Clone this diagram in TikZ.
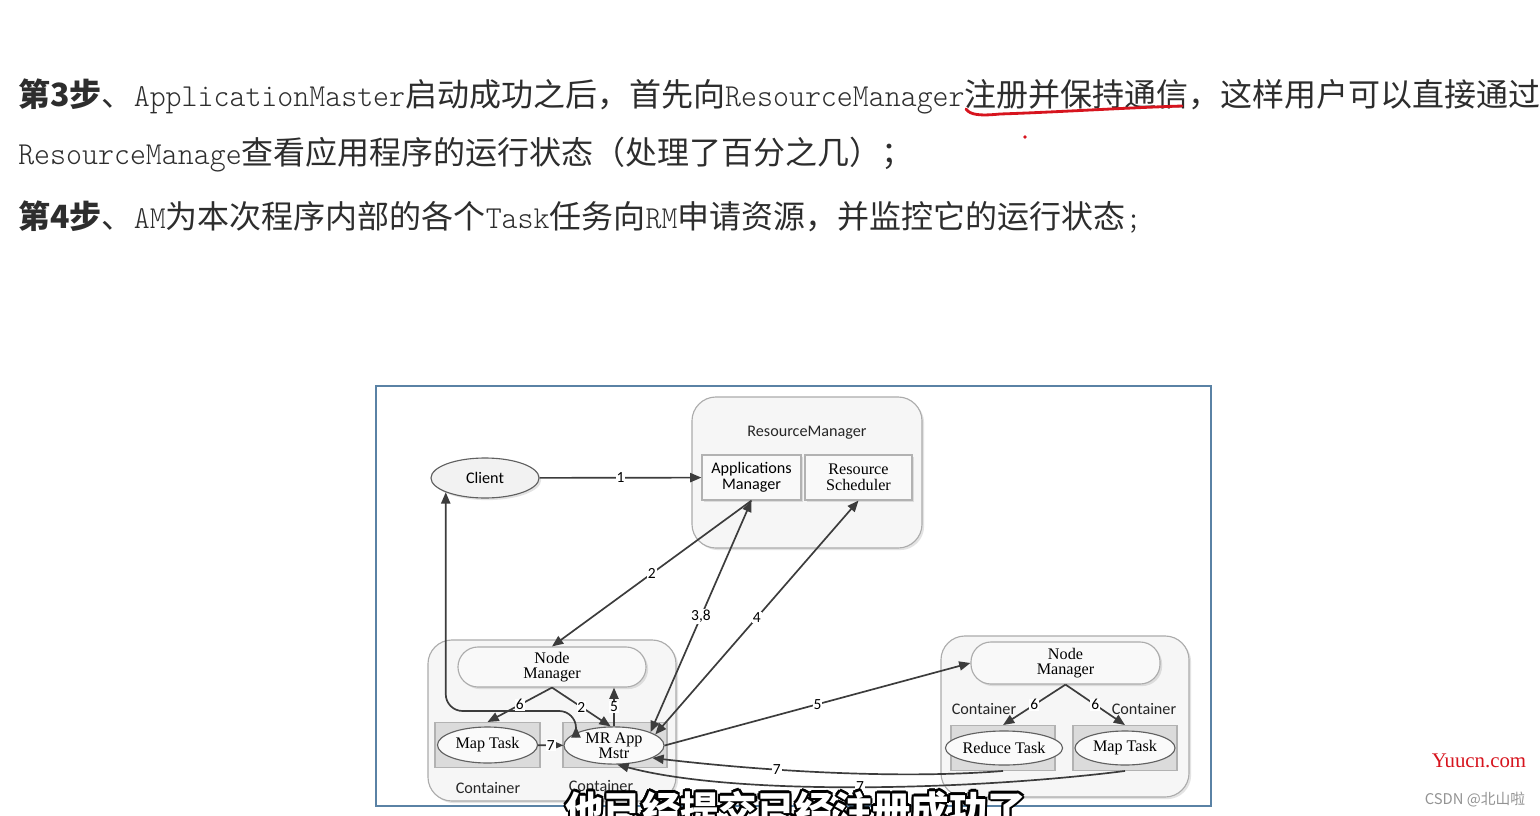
\documentclass[tikz,border=0pt]{standalone}
\usepackage{fontspec}
\usepackage{tikz}
\usepackage[copies]{contour}
\usetikzlibrary{arrows.meta,shapes.geometric,shadows,positioning}
\setmainfont{Liberation Serif}
\newfontfamily\cjkfont{Noto Sans CJK SC}
\newfontfamily\latinmono[FakeStretch=0.95]{lmmonolt10-regular.otf}
\newfontfamily\carlito{Carlito}
\definecolor{framec}{RGB}{90,130,165}
\definecolor{ink}{RGB}{60,60,60}
\definecolor{txt}{RGB}{45,45,45}
\definecolor{redpen}{RGB}{215,20,30}
\contourlength{1.6pt}
\contournumber{12}

\begin{document}
\begin{tikzpicture}[x=0.025cm,y=-0.025cm,
  arr/.style={-{Triangle[length=8pt,width=6.5pt]},ink,line width=1.2pt},
  dbl/.style={{Triangle[length=8pt,width=6.5pt]}-{Triangle[length=8pt,width=6.5pt]},ink,line width=1.2pt},
  lbl/.style={fill=white,inner sep=0.6pt,font=\carlito\fontsize{11}{11}\selectfont,text=black},
  shade/.style={drop shadow={opacity=0.22,shadow xshift=1.5pt,shadow yshift=-1.5pt}},
  outer/.style={draw=gray!65,fill=gray!7,rounded corners=0.6cm,line width=0.8pt,shade},
  sub/.style={draw=gray!60,fill=gray!5,line width=0.8pt,align=center,shade,
    font=\fontsize{11.5}{11}\selectfont},
  nm/.style={draw=gray!65,fill=gray!5,rounded corners=0.5cm,line width=0.8pt,align=center,shade,
    font=\rmfamily\fontsize{11.5}{11}\selectfont},
  tbox/.style={draw=gray!60,fill=gray!28,line width=0.8pt,minimum width=2.6cm,minimum height=1.12cm},
  tsk/.style={ellipse,draw=gray!75!black,fill=gray!4,line width=0.8pt,inner sep=0pt,
    minimum width=2.5cm,minimum height=0.9cm,align=center,font=\rmfamily\fontsize{11.5}{11}\selectfont},
  ctext/.style={font=\carlito\fontsize{11.5}{12}\selectfont,text=black!85}]

\useasboundingbox (0,0) rectangle (1540,816);
\fill[white] (0,0) rectangle (1540,816);

% text of the slide
\node[anchor=base west,inner sep=0,text=txt,font=\cjkfont\fontsize{22.76}{24}\selectfont] (line1) at (18,106)
  {{\bfseries 第3步}、{\latinmono ApplicationMaster}启动成功之后，首先向{\latinmono ResourceManager}注册并保持通信，这样用户可以直接通过};
\node[anchor=base west,inner sep=0,text=txt,font=\cjkfont\fontsize{22.76}{24}\selectfont] (line2) at (18,164)
  {{\latinmono ResourceManage}查看应用程序的运行状态（处理了百分之几）；};
\node[anchor=base west,inner sep=0,text=txt,font=\cjkfont\fontsize{22.76}{24}\selectfont] (line3) at (18,228)
  {{\bfseries 第4步}、{\latinmono AM}为本次程序内部的各个{\latinmono Task}任务向{\latinmono RM}申请资源，并监控它的运行状态{\latinmono ;}};

\draw[redpen,line width=2pt,line cap=round] (966,109) .. controls (970,115) and (980,116) .. (1000,114)
  .. controls (1060,112) and (1120,108) .. (1182,106);
\fill[redpen] (1025,137) circle[radius=1.3pt];

% diagram
\draw[framec,line width=1.4pt] (376,386) rectangle (1211,806);

\node[outer,minimum width=5.75cm,minimum height=3.775cm] (rm) at (807,472.5) {};
\node[ctext] (rmtitle) at (807,433) {ResourceManager};
\node[sub,minimum width=2.475cm,minimum height=1.125cm,font=\carlito\fontsize{11.5}{11}\selectfont] (am) at (751.5,477.5) {Applications\\Manager};
\node[sub,minimum width=2.675cm,minimum height=1.125cm,font=\rmfamily\fontsize{11.5}{11}\selectfont] (rs) at (858.5,477.5) {Resource\\Scheduler};

\node[ellipse,draw=gray!75!black,fill=gray!10,line width=0.8pt,minimum width=2.7cm,minimum height=1cm,shade,
  font=\carlito\fontsize{11.5}{12}\selectfont] (client) at (485,478) {Client};

\node[outer,minimum width=6.2cm,minimum height=4.025cm] (lnode) at (552,720.5) {};
\node[nm,minimum width=4.7cm,minimum height=1cm] (lnm) at (552,667) {Node\\Manager};
\node[tbox,minimum width=2.625cm] (lmapc) at (487.5,745) {};
\node[tsk] (lmap) at (487.5,745) {Map Task};
\node[tbox] (mrc) at (615,745) {};
\node[tsk] (mr) at (614,745.5) {MR App\\Mstr};
\node[ctext] (lcont) at (488,788) {Container};
\node[ctext] (mcont) at (601,786) {Container};

\node[outer,minimum width=6.2cm,minimum height=4.025cm] (rnode) at (1065,716.5) {};
\node[nm,minimum width=4.725cm,minimum height=1.05cm] (rnm) at (1065.5,663) {Node\\Manager};
\node[tbox] (rredc) at (1003,748) {};
\node[tsk,minimum height=0.85cm] (rred) at (1004,748) {Reduce Task};
\node[tbox] (rmapc) at (1125,748) {};
\node[tsk,minimum height=0.85cm] (rmap) at (1125,748) {Map Task};
\node[ctext] (rcont1) at (984,709) {Container};
\node[ctext] (rcont2) at (1144,709) {Container};

\coordinate (cbend) at (576,711);

\draw[arr] (client) -- node[lbl]{1} (am);
\draw[arr] (am.south) -- node[lbl]{2} (lnm.north);
\draw[dbl] (mr.20) -- node[lbl]{3,8} (am.south);
\draw[dbl] (mr.15) -- node[lbl]{4} (rs.south);
\draw[dbl,rounded corners=12pt] (client.200) |- (cbend) -- (mr.north -| cbend);
\draw[arr] (lnm.south) -- node[lbl]{6} (lmapc.north);
\draw[arr] (lnm.south) -- node[lbl]{2} (mr.100);
\draw[arr] (mr.north) -- node[lbl]{5} (mr.north |- lnm.south);
\draw[arr] (lmap) -- node[lbl]{7} (mr);
\draw[arr] (mr.east) -- node[lbl]{5} (rnm.west);
\draw[arr] (rnm.south) -- node[lbl]{6} (rredc.north);
\draw[arr] (rnm.south) -- node[lbl]{6} (rmapc.north);
\draw[arr] (rredc.south) .. controls +(-100,8) and +(120,14) .. node[lbl,pos=0.66]{7} (mr.-18);
\draw[arr] (rmapc.south) .. controls +(-150,19) and +(120,32) .. node[lbl,pos=0.5]{7} (mr.-80);

% watermarks and subtitle
\node[font=\rmfamily\fontsize{14.8}{15}\selectfont,text=redpen] (yuucn) at (1479,761) {Yuucn.com};
\node[font=\cjkfont\fontsize{10.5}{11}\selectfont,text=gray!85] (csdn) at (1475,800) {CSDN @北山啦};
\node[anchor=base west,inner sep=0,font=\cjkfont\bfseries\fontsize{27.3}{28}\selectfont] (subtitle) at (565,824)
  {\contour{black}{\textcolor{white}{他已经提交已经注册成功了}}};
\end{tikzpicture}
\end{document}
